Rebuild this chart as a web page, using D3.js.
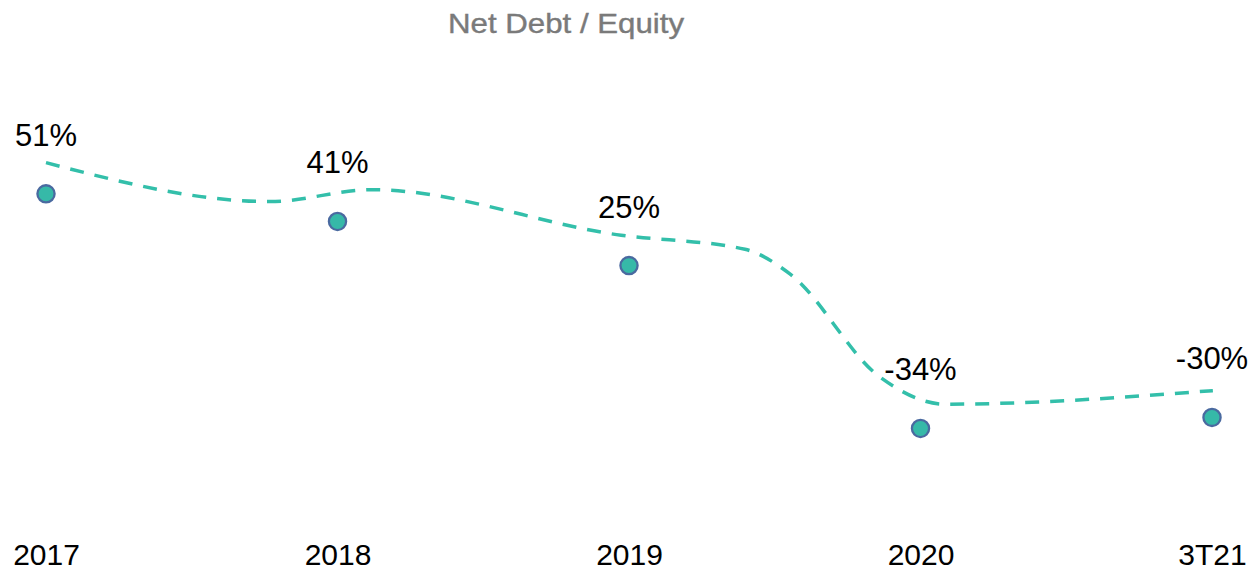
<html>
<script src="https://d3js.org/d3.v7.min.js"></script>
<style>
  body { margin: 0; background: #fff; }
  text { font-family: Arial, "Liberation Sans", sans-serif; }
</style>
<body>
<svg width="1253" height="570"></svg>
<script>
// categories and values
const categories = ["2017", "2018", "2019", "2020", "3T21"];
const values = [51, 41, 25, -34, -30];
const valueLabels = ["51%", "41%", "25%", "-34%", "-30%"];

// dashed trend line (category index, value)
const trendIndex = [0, 0.768, 1.118, 1.973, 2.398, 2.552, 2.861, 3.084, 4.003];
const trendValues = [62.3, 48.2, 52.5, 36.0, 30.9, 22.0, -15.4, -25.2, -20.3];

const title = "Net Debt / Equity";

const width = 1253, height = 570;
const svg = d3.select("svg");

var x = d3.scalePoint().domain(categories).range([46, 1212]);
var xi = d3.scaleLinear().domain([0, categories.length - 1]).range([46, 1212]);
var y = d3.scaleLinear().domain([-40, 60]).range([445, 169]);

svg.append("text")
  .attr("x", 566)
  .attr("y", 33)
  .attr("text-anchor", "middle")
  .attr("font-size", 28)
  .attr("fill", "#7a7a7a")
  .attr("stroke", "#7a7a7a")
  .attr("stroke-width", 0.4)
  .attr("textLength", 236)
  .attr("lengthAdjust", "spacingAndGlyphs")
  .text(title);

// trend line
var line = d3.line()
  .x(function(d, i) { return xi(trendIndex[i]); })
  .y(function(d) { return y(d); })
  .curve(d3.curveMonotoneX);

svg.append("path")
  .datum(trendValues)
  .attr("d", line)
  .attr("fill", "none")
  .attr("stroke", "#33bfaa")
  .attr("stroke-width", 3.5)
  .attr("stroke-dasharray", "14,11");

// points
svg.selectAll("circle.pt")
  .data(values)
  .enter()
  .append("circle")
    .attr("class", "pt")
    .attr("cx", function(d, i) { return x(categories[i]); })
    .attr("cy", function(d) { return y(d); })
    .attr("r", 8.6)
    .attr("fill", "#36b9a8")
    .attr("stroke", "#4a6aa0")
    .attr("stroke-width", 2.3);

// value labels
svg.selectAll("text.lbl")
  .data(values)
  .enter()
  .append("text")
    .attr("class", "lbl")
    .attr("x", function(d, i) { return x(categories[i]); })
    .attr("y", function(d) { return y(d) - 48; })
    .attr("text-anchor", "middle")
    .attr("font-size", 31)
    .attr("fill", "#000")
    .text(function(d, i) { return valueLabels[i]; });

// x axis
var xAxis = svg.append("g")
  .attr("transform", "translate(0,544)")
  .call(d3.axisBottom(x).tickSize(0).tickPadding(0));
xAxis.select(".domain").remove();
xAxis.selectAll("text")
  .attr("font-size", 30)
  .attr("fill", "#000")
  .style("font-family", "Arial, 'Liberation Sans', sans-serif");
</script>
</body>
</html>
